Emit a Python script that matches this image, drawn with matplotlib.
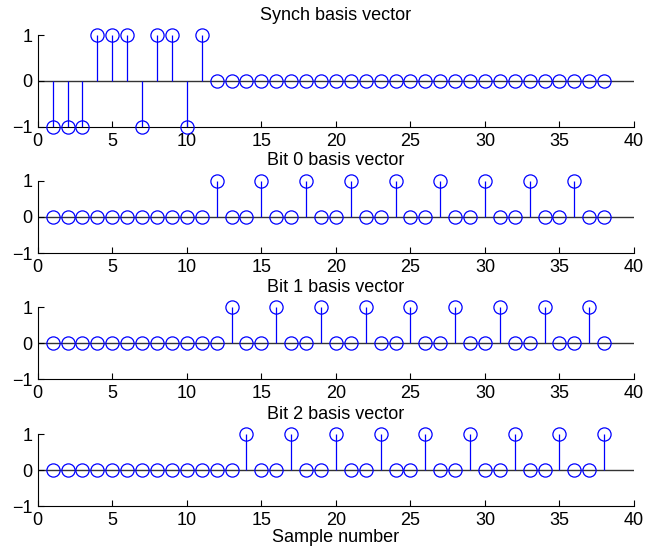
import numpy as np
import matplotlib.pyplot as plt

plt.rcParams['font.family'] = ['Liberation Sans', 'DejaVu Sans']
plt.rcParams['font.size'] = 13

n = np.arange(1, 39)
synch = [-1, -1, -1, 1, 1, 1, -1, 1, 1, -1, 1] + [0] * 27
bit0 = [0] * 11 + [1, 0, 0] * 9
bit1 = [0] * 12 + [1, 0, 0] * 8 + [1, 0]
bit2 = [0] * 13 + [1, 0, 0] * 8 + [1]

series = [synch, bit0, bit1, bit2]
titles = ["Synch basis vector", "Bit 0 basis vector", "Bit 1 basis vector", "Bit 2 basis vector"]
# axes boxes in figure fraction: left, bottom, width, height
boxes = [(0.0585, 0.7708, 0.9245, 0.166),
         (0.0585, 0.5433, 0.9245, 0.1305),
         (0.0585, 0.3154, 0.9245, 0.130),
         (0.0585, 0.0866, 0.9245, 0.130)]

fig = plt.figure(figsize=(6.45, 5.54), dpi=100)

for i in range(4):
    ax = fig.add_axes(boxes[i])
    y = np.array(series[i])
    ax.axhline(0, color="#333333", lw=1.0, zorder=1)
    ml, sl, bl = ax.stem(n, y, linefmt="-", markerfmt="o", basefmt=" ")
    plt.setp(sl, color="#0000ff", linewidth=0.9, zorder=2)
    plt.setp(ml, markerfacecolor="none", markeredgecolor="#0000ff",
             markersize=9.5, markeredgewidth=0.9, zorder=3, clip_on=False)
    ax.set_xlim(0, 40)
    ax.set_ylim(-1, 1)
    ax.set_xticks(np.arange(0, 41, 5))
    ax.set_yticks([-1, 0, 1])
    ax.spines["top"].set_visible(False)
    ax.spines["right"].set_visible(False)
    ax.tick_params(direction="in", length=4, labelsize=13, pad=4)
    for sp in ["left", "bottom"]:
        ax.spines[sp].set_linewidth(0.8)
    ax.set_title(titles[i], fontsize=13, pad=11)
    if i == 3:
        ax.set_xlabel("Sample number", fontsize=13, labelpad=0)

fig.savefig("out.png", dpi=100)
